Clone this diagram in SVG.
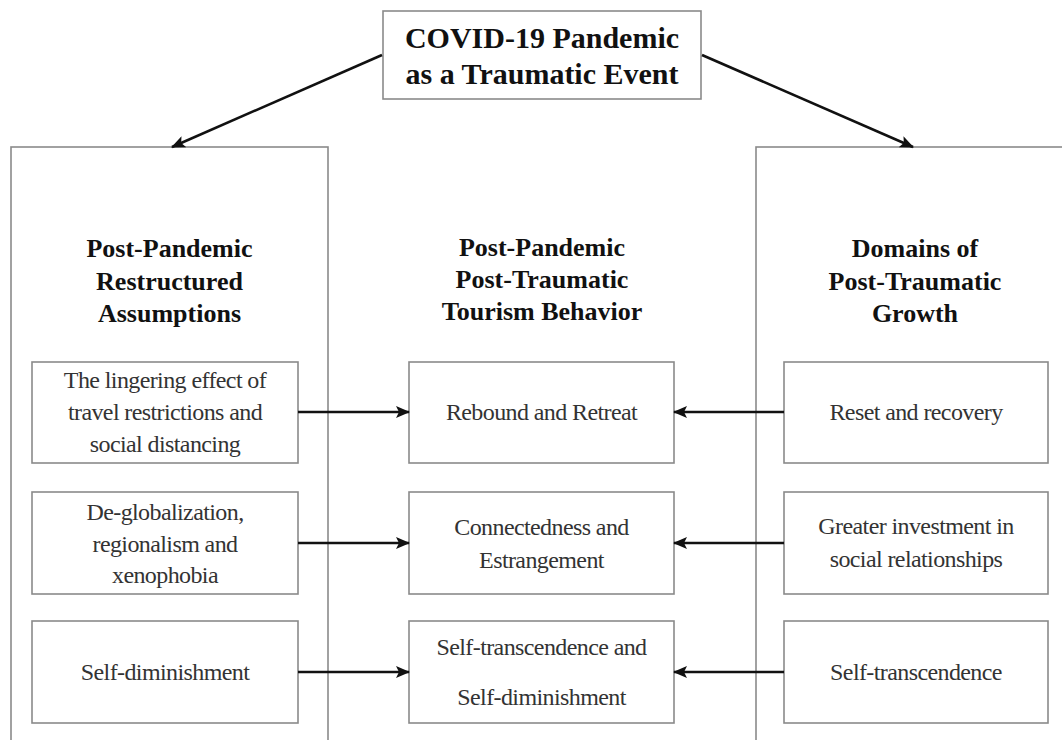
<svg xmlns="http://www.w3.org/2000/svg" width="1062" height="740" viewBox="0 0 1062 740">
<style>
.box{fill:#fff;stroke:#8a8a8a;stroke-width:1.6}
.h{font-family:"Liberation Serif",serif;font-weight:bold;fill:#111;text-anchor:middle}
.t{font-family:"Liberation Serif",serif;font-size:24px;fill:#333;text-anchor:middle;letter-spacing:-0.6px}
.c{stroke:#111;stroke-width:2.6;fill:none}
</style>
<defs>
<marker id="ah" markerUnits="userSpaceOnUse" markerWidth="14" markerHeight="12" refX="13" refY="6" orient="auto">
<path d="M0,0 L14,6 L0,12 L3,6 Z" fill="#111"/>
</marker>
</defs>
<rect width="1062" height="740" fill="#fff"/>
<g id="col-left">
<rect class="box" x="11" y="147" width="317" height="610"/>
<text class="h" font-size="26" x="169.5"><tspan x="169.5" y="257">Post-Pandemic</tspan><tspan x="169.5" y="290">Restructured</tspan><tspan x="169.5" y="322">Assumptions</tspan></text>
</g>
<g id="col-right">
<rect class="box" x="756" y="147" width="330" height="610"/>
<text class="h" font-size="26" x="915"><tspan x="915" y="257">Domains of</tspan><tspan x="915" y="290">Post-Traumatic</tspan><tspan x="915" y="322">Growth</tspan></text>
</g>
<g id="col-mid">
<text class="h" font-size="26" x="542"><tspan x="542" y="256">Post-Pandemic</tspan><tspan x="542" y="288">Post-Traumatic</tspan><tspan x="542" y="320">Tourism Behavior</tspan></text>
</g>
<g id="top">
<rect class="box" x="383" y="11" width="318" height="88"/>
<text class="h" font-size="30" x="542"><tspan x="542" y="48">COVID-19 Pandemic</tspan><tspan x="542" y="84">as a Traumatic Event</tspan></text>
</g>
<g id="l1"><rect class="box" x="32" y="362" width="266" height="101"/>
<text class="t"><tspan x="165" y="388">The lingering effect of</tspan><tspan x="165" y="420">travel restrictions and</tspan><tspan x="165" y="452">social distancing</tspan></text></g>
<g id="l2"><rect class="box" x="32" y="492" width="266" height="102"/>
<text class="t"><tspan x="165" y="520">De-globalization,</tspan><tspan x="165" y="552">regionalism and</tspan><tspan x="165" y="583">xenophobia</tspan></text></g>
<g id="l3"><rect class="box" x="32" y="621" width="266" height="102"/>
<text class="t"><tspan x="165" y="680">Self-diminishment</tspan></text></g>
<g id="m1"><rect class="box" x="409" y="362" width="265" height="101"/>
<text class="t"><tspan x="541.5" y="420">Rebound and Retreat</tspan></text></g>
<g id="m2"><rect class="box" x="409" y="492" width="265" height="102"/>
<text class="t"><tspan x="541.5" y="535">Connectedness and</tspan><tspan x="541.5" y="568">Estrangement</tspan></text></g>
<g id="m3"><rect class="box" x="409" y="621" width="265" height="102"/>
<text class="t"><tspan x="541.5" y="655">Self-transcendence and</tspan><tspan x="541.5" y="705">Self-diminishment</tspan></text></g>
<g id="r1"><rect class="box" x="784" y="362" width="264" height="101"/>
<text class="t"><tspan x="916" y="420">Reset and recovery</tspan></text></g>
<g id="r2"><rect class="box" x="784" y="492" width="264" height="102"/>
<text class="t"><tspan x="916" y="534">Greater investment in</tspan><tspan x="916" y="567">social relationships</tspan></text></g>
<g id="r3"><rect class="box" x="784" y="621" width="264" height="102"/>
<text class="t"><tspan x="916" y="680">Self-transcendence</tspan></text></g>
<g id="connectors">
<line class="c" x1="382" y1="55" x2="172" y2="147" marker-end="url(#ah)"/>
<line class="c" x1="702" y1="55" x2="913" y2="147" marker-end="url(#ah)"/>
<line class="c" x1="298" y1="412" x2="409" y2="412" marker-end="url(#ah)"/>
<line class="c" x1="298" y1="543" x2="409" y2="543" marker-end="url(#ah)"/>
<line class="c" x1="298" y1="672" x2="409" y2="672" marker-end="url(#ah)"/>
<line class="c" x1="784" y1="412" x2="674" y2="412" marker-end="url(#ah)"/>
<line class="c" x1="784" y1="543" x2="674" y2="543" marker-end="url(#ah)"/>
<line class="c" x1="784" y1="672" x2="674" y2="672" marker-end="url(#ah)"/>
</g>
</svg>
